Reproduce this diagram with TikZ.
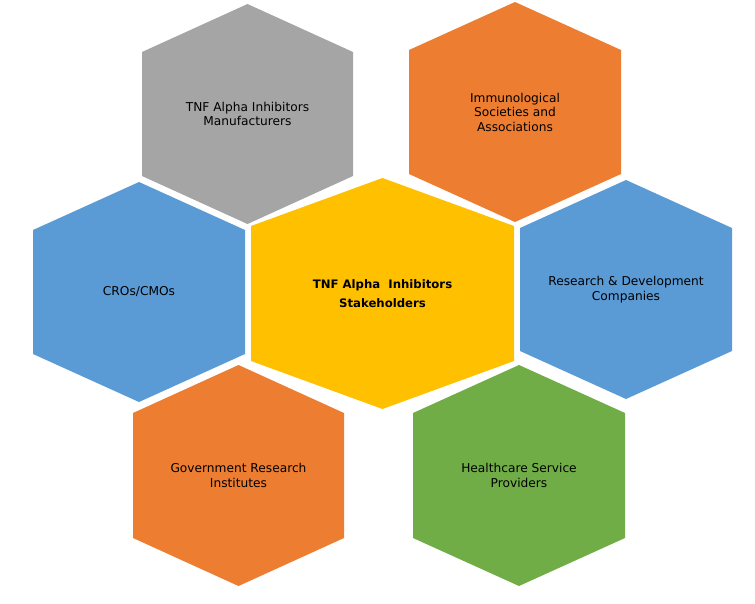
\documentclass[tikz,border=0pt]{standalone}
\usepackage{fontspec}
\setmainfont{DejaVu Sans}
\definecolor{cgray}{HTML}{A5A5A5}
\definecolor{corange}{HTML}{ED7D31}
\definecolor{cblue}{HTML}{5B9BD5}
\definecolor{cyellow}{HTML}{FFC000}
\definecolor{cgreen}{HTML}{70AD47}
\tikzset{
  lbl/.style={align=center, font=\fontsize{12.2}{14.5}\selectfont, text=black, inner sep=0pt},
  lblbold/.style={align=center, font=\fontsize{11.7}{19}\selectfont\bfseries, text=black, inner sep=0pt}
}
% #1 name, #2 cx, #3 top, #4 bottom, #5 left, #6 right, #7 colour, #8 style, #9 text
\newcommand{\hexcell}[9]{%
  \fill[#7] (#2,#3) -- (#6,#3+48) -- (#6,#4-48) -- (#2,#4) -- (#5,#4-48) -- (#5,#3+48) -- cycle;
  \node[#8] (#1) at (#2,{(#3+#4)/2}) {#9};
}
\begin{document}
\begin{tikzpicture}[x=1pt,y=-1pt]
\useasboundingbox (0,0) rectangle (755,603);
\hexcell{manuf}{247.5}{4}{224}{142}{353}{cgray}{lbl}{TNF Alpha Inhibitors\\Manufacturers}
\hexcell{immuno}{515}{2}{222}{409}{621}{corange}{lbl}{Immunological\\Societies and\\Associations}
\hexcell{center}{382.5}{178}{409}{251}{514}{cyellow}{lblbold}{TNF Alpha\ \ Inhibitors\\Stakeholders}
\hexcell{cro}{139}{182}{402}{33}{245}{cblue}{lbl}{CROs/CMOs}
\hexcell{rnd}{626}{180}{399}{520}{732}{cblue}{lbl}{Research \& Development\\Companies}
\hexcell{gov}{238.5}{365}{586}{133}{344}{corange}{lbl}{Government Research\\Institutes}
\hexcell{health}{519}{365}{586}{413}{625}{cgreen}{lbl}{Healthcare Service\\Providers}
\end{tikzpicture}
\end{document}
